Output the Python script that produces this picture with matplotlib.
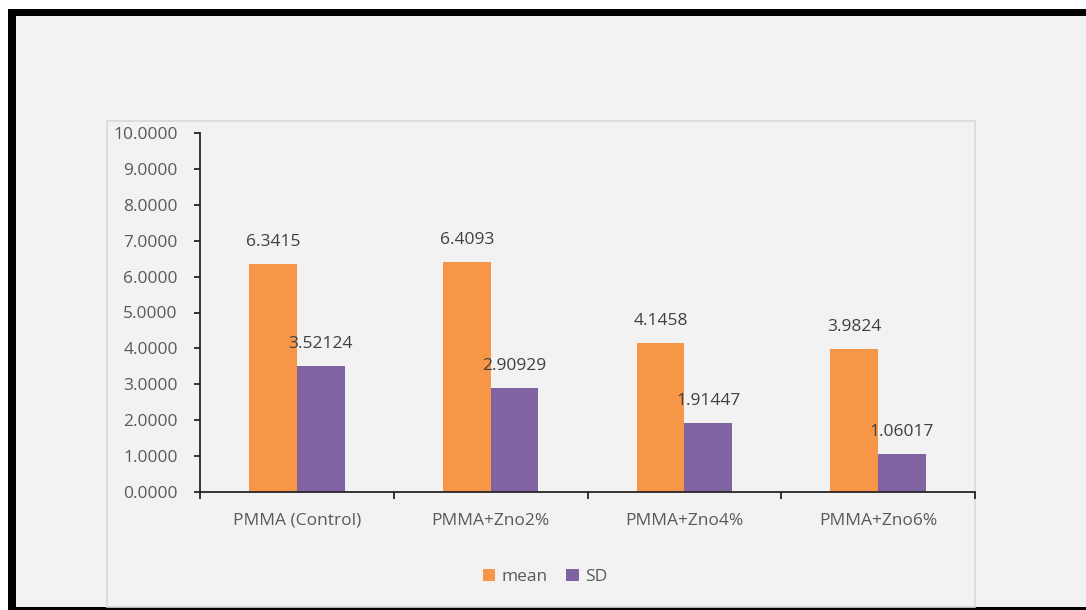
import numpy as np
import matplotlib.pyplot as plt
from matplotlib.patches import Rectangle

# Data
groups = ["PMMA (Control)", "PMMA+Zno2%", "PMMA+Zno4%", "PMMA+Zno6%"]
mean_vals = [6.3415, 6.4093, 4.1458, 3.9824]
sd_vals = [3.52124, 2.90929, 1.91447, 1.06017]
mean_labels = ["6.3415", "6.4093", "4.1458", "3.9824"]
sd_labels = ["3.52124", "2.90929", "1.91447", "1.06017"]

plt.rcParams['font.family'] = ['Open Sans', 'DejaVu Sans']

W, H = 1086, 610
fig = plt.figure(figsize=(W / 100, H / 100), dpi=100)
fig.patch.set_facecolor('white')

# background panel + black frame
fig.patches.append(Rectangle((8 / W, 0), 1, 1 - 9 / H, transform=fig.transFigure,
                             facecolor='#f2f2f2', edgecolor='none', zorder=-3))
fig.patches.append(Rectangle((8 / W, 1 - 16 / H), 1, 7 / H, transform=fig.transFigure,
                             facecolor='black', edgecolor='none', zorder=-2))
fig.patches.append(Rectangle((8 / W, 0), 8 / W, 1 - 9 / H, transform=fig.transFigure,
                             facecolor='black', edgecolor='none', zorder=-2))
fig.patches.append(Rectangle((8 / W, 0), 1, 3 / H, transform=fig.transFigure,
                             facecolor='black', edgecolor='none', zorder=-2))
# chart area border
fig.patches.append(Rectangle((107 / W, 3 / H), (975 - 107) / W, (607 - 121) / H,
                             transform=fig.transFigure, facecolor='none',
                             edgecolor='#d9d9d9', linewidth=1.2, zorder=-1))

ax = fig.add_axes([200 / W, (H - 492) / H, (975 - 200) / W, (492 - 133) / H])
ax.set_facecolor('none')

x = np.arange(len(groups))
w = 0.247
orange = '#f79646'
purple = '#8064a2'
b1 = ax.bar(x - w / 2, mean_vals, w, color=orange, label='mean')
b2 = ax.bar(x + w / 2, sd_vals, w, color=purple, label='SD')

for rects, labs in ((b1, mean_labels), (b2, sd_labels)):
    for r, t in zip(rects, labs):
        ax.annotate(t, (r.get_x() + r.get_width() / 2, r.get_height()),
                    xytext=(0, 10), textcoords='offset points',
                    ha='center', va='bottom', fontsize=12.5, color='#404040')

ax.set_xlim(-0.5, len(groups) - 0.5)
ax.set_ylim(0, 10)
ax.set_yticks(np.arange(0, 11, 1))
ax.set_yticklabels([f"{v:.4f}" for v in np.arange(0, 11, 1)])
ax.set_xticks(x)
ax.set_xticklabels(groups)
ax.set_xticks(np.arange(-0.5, len(groups), 1), minor=True)

for s in ['top', 'right']:
    ax.spines[s].set_visible(False)
ax.spines['left'].set_color('#262626')
ax.spines['bottom'].set_color('#262626')
ax.spines['left'].set_linewidth(1.3)
ax.spines['bottom'].set_linewidth(1.3)

ax.tick_params(axis='y', direction='out', length=4, width=1.3, color='#262626',
               labelsize=12.5, labelcolor='#595959', pad=12)
ax.tick_params(axis='x', which='major', length=0, labelsize=12.5,
               labelcolor='#595959', pad=15)
ax.tick_params(axis='x', which='minor', direction='out', length=5, width=1.3,
               color='#262626')

fig.legend(handles=[b1, b2], labels=['mean', 'SD'], loc='center',
           bbox_to_anchor=(545 / W, 1 - 577 / H), ncol=2, frameon=False,
           fontsize=12.5, labelcolor='#595959', handlelength=0.7,
           handleheight=0.7, handletextpad=0.35, columnspacing=1.1)

plt.savefig("out.png", dpi=100)
